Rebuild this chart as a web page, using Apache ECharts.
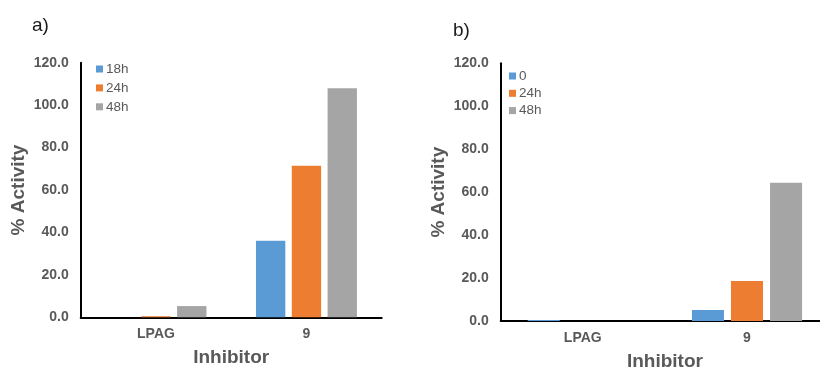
<!DOCTYPE html>
<html>
<head>
<meta charset="utf-8">
<script src="https://cdn.jsdelivr.net/npm/echarts@6/dist/echarts.min.js"></script>
<style>
html,body{margin:0;padding:0;background:#fff;}
#c{width:820px;height:369px;}
</style>
</head>
<body>
<div id="c"></div>
<script>
var categories = ['LPAG', '9'];
var yTicks = [0, 20, 40, 60, 80, 100, 120];
// Panel a)
var namesA = ['18h', '24h', '48h'];
var a18h = [0, 36.1];
var a24h = [0.5, 71.4];
var a48h = [5.3, 107.9];
// Panel b)
var namesB = ['0', '24h', '48h'];
var b0 = [0.5, 5.1];
var b24h = [0, 18.6];
var b48h = [0, 64.4];

var colors = ['#5B9BD5', '#ED7D31', '#A5A5A5'];
var FONT = 'Liberation Sans, Arial, sans-serif';
var GREY = '#595959';

function xAx(gi) {
  return {
    type: 'category', gridIndex: gi, data: categories,
    axisLine: {lineStyle: {color: '#000', width: 2}},
    axisTick: {show: false},
    axisLabel: {color: GREY, fontWeight: 'bold', fontSize: 14, fontFamily: FONT, margin: 10},
    name: 'Inhibitor', nameLocation: 'middle', nameGap: 31,
    nameTextStyle: {color: GREY, fontWeight: 'bold', fontSize: 19, fontFamily: FONT}
  };
}
function yAx(gi) {
  return {
    type: 'value', gridIndex: gi, min: yTicks[0], max: yTicks[yTicks.length - 1], interval: 20,
    axisLine: {show: true, lineStyle: {color: '#000', width: 2}},
    axisTick: {show: false},
    splitLine: {show: false},
    axisLabel: {color: GREY, fontWeight: 'bold', fontSize: 14, fontFamily: FONT, margin: 12,
      formatter: function (v) { return v.toFixed(1); }},
    name: '% Activity', nameLocation: 'middle', nameGap: 52,
    nameTextStyle: {color: GREY, fontWeight: 'bold', fontSize: 19, fontFamily: FONT}
  };
}
function bar(name, data, ci, gi) {
  return {
    type: 'bar', name: name, data: data, xAxisIndex: gi, yAxisIndex: gi,
    barWidth: '19.5%', barGap: '22%',
    itemStyle: {color: colors[ci]}
  };
}

var chart = echarts.init(document.getElementById('c'), null, {renderer: 'canvas'});
chart.setOption({
  animation: false,
  backgroundColor: '#fff',
  title: [
    {text: 'a)', left: 27, top: 11, textStyle: {fontSize: 19, fontWeight: 'normal', color: '#1a1a1a', fontFamily: FONT}},
    {text: 'b)', left: 448, top: 16, textStyle: {fontSize: 19, fontWeight: 'normal', color: '#1a1a1a', fontFamily: FONT}}
  ],
  legend: [
    {data: namesA, orient: 'vertical', left: 96, top: 62, itemWidth: 7, itemHeight: 7, itemGap: 4.9,
      icon: 'rect', textStyle: {color: GREY, fontSize: 13.5, fontFamily: FONT, lineHeight: 14, padding: [0, 0, 0, -2]}, padding: 0, selectedMode: false},
    {data: namesB, orient: 'vertical', left: 509, top: 69, itemWidth: 7, itemHeight: 7, itemGap: 3.3,
      icon: 'rect', textStyle: {color: GREY, fontSize: 13.5, fontFamily: FONT, lineHeight: 14, padding: [0, 0, 0, -2]}, padding: 0, selectedMode: false}
  ],
  grid: [
    {left: 80.7, top: 62.7, width: 301, height: 254.6, outerBoundsMode: 'none', containLabel: false},
    {left: 500.7, top: 63.3, width: 328.4, height: 257.7, outerBoundsMode: 'none', containLabel: false}
  ],
  xAxis: [xAx(0), xAx(1)],
  yAxis: [yAx(0), yAx(1)],
  series: [
    bar(namesA[0], a18h, 0, 0), bar(namesA[1], a24h, 1, 0), bar(namesA[2], a48h, 2, 0),
    bar(namesB[0], b0, 0, 1), bar(namesB[1], b24h, 1, 1), bar(namesB[2], b48h, 2, 1)
  ]
});
</script>
</body>
</html>
